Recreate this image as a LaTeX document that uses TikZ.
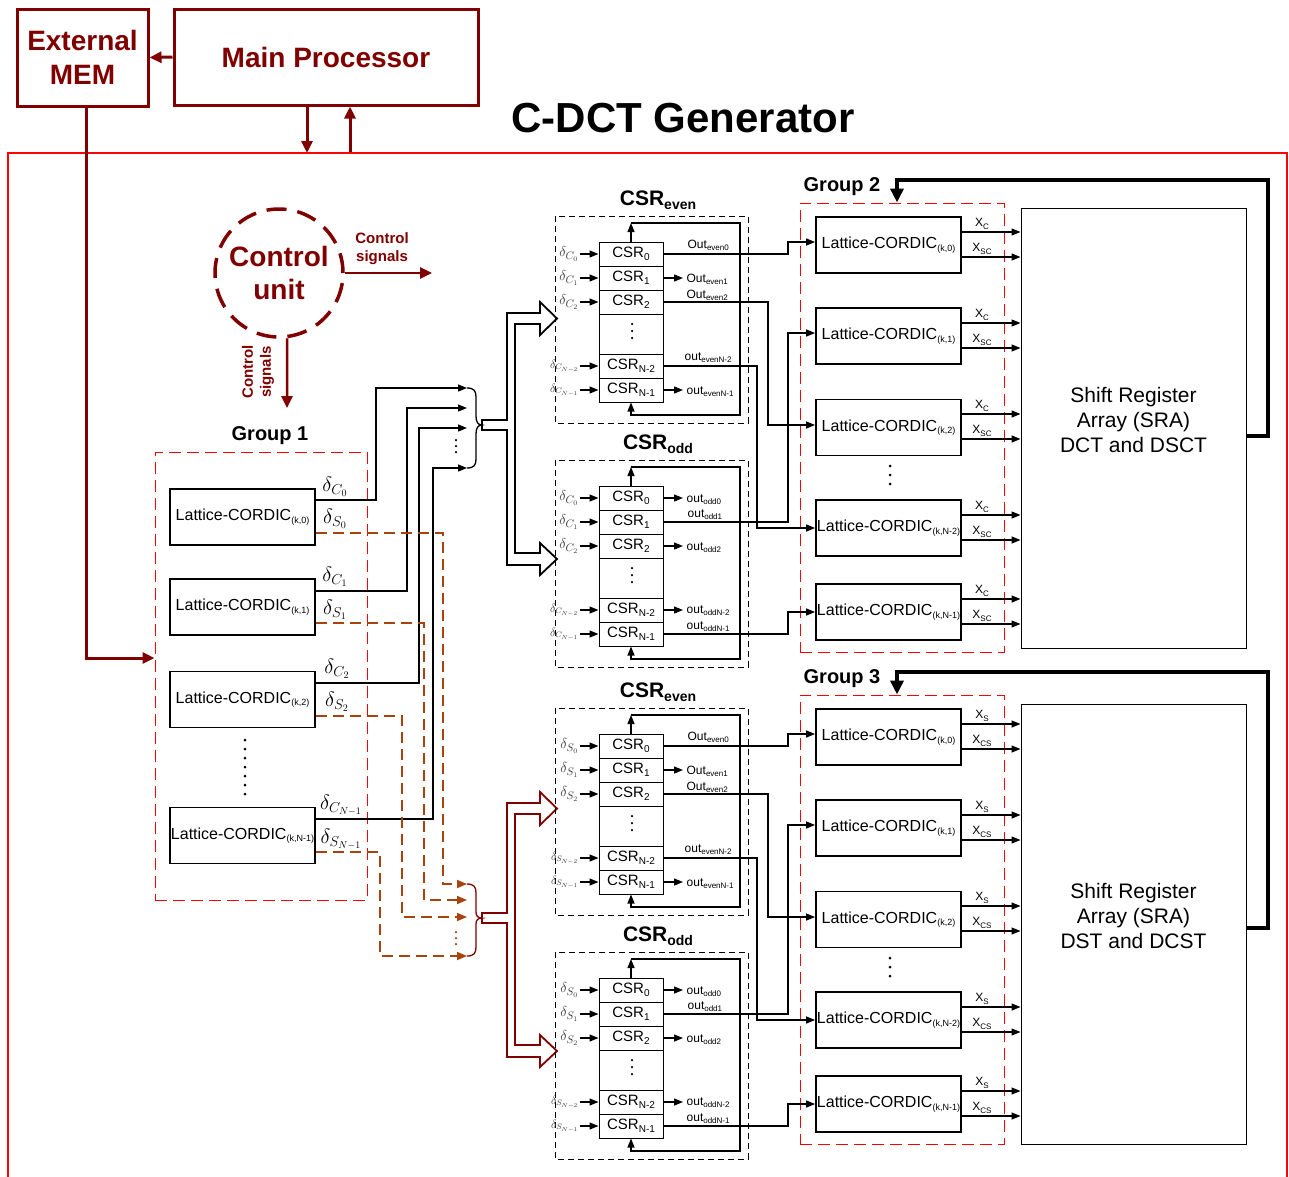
\documentclass[tikz,border=0pt]{standalone}
\usepackage{fontspec}
\setmainfont{Liberation Sans}
\usetikzlibrary{arrows.meta,calc}
\definecolor{dred}{RGB}{128,0,0}
\definecolor{brn}{RGB}{168,66,14}
\definecolor{dgray}{RGB}{55,55,55}
\newcommand\fsz[1]{\fontsize{#1}{\the\dimexpr #1pt*6/5\relax}\selectfont}
\newcommand\mysub[2]{{\fsz{#1}\raisebox{-0.3em}{#2}}}
\newcommand\latbox[1]{Lattice-CORDIC\mysub{9}{(#1)}}
\tikzset{
 crow/.style={draw, line width=1pt, minimum width=64pt, minimum height=24pt, inner sep=0pt, font=\fsz{15}},
 blkdash/.style={draw=black, line width=1pt, dash pattern=on 6pt off 4pt},
 ttl/.style={font=\bfseries\fsz{21}},
 dl/.style={text=dgray},
 gdl/.style={font=\fsz{20}},
 olab/.style={font=\fsz{12}, anchor=base west},
 latt/.style={draw, line width=1.8pt, minimum width=145pt, minimum height=56pt, inner sep=0pt, font=\fsz{16}},
 grp/.style={draw=red, line width=1pt, dash pattern=on 12pt off 6pt},
 glab/.style={font=\bfseries\fsz{20}},
 sra/.style={draw, line width=1pt, minimum width=225pt, minimum height=440pt},
 sratxt/.style={align=center, font=\fsz{21}},
 xlab/.style={font=\fsz{12}, anchor=south},
 fb/.style={line width=3.5pt, -{Triangle[length=14pt,width=13pt]}},
 vdot/.style={line width=3pt, line cap=round, dash pattern=on 0pt off 9pt},
 sw/.style={draw=brn, line width=1.6pt, dash pattern=on 11pt off 6pt, -{Triangle[length=10pt,width=8pt]}},
 darr/.style={draw=dred, line width=3pt, -{Triangle[length=12pt,width=11pt]}},
 topbox/.style={draw=dred, line width=3pt, text=dred, font=\bfseries\fsz{28}, align=center, inner sep=0pt},
 bus/.style={line width=1.8pt, line join=miter},
}
% one CSR block: #1 letter, #2 stack top y, #3 title subscript, #4 delta letter
\newcommand\csrblk[4]{%
\begin{scope}[shift={(0,#2)}]
 \draw[blkdash] (555,-26) rectangle (748,181);
 \node[ttl] (#1t) at (658,-42) {CSR\mysub{14}{#3}};
 \node[crow] (#1r0) at (631,12) {CSR\mysub{10}{0}};
 \node[crow] (#1r1) at (631,36) {CSR\mysub{10}{1}};
 \node[crow] (#1r2) at (631,60) {CSR\mysub{10}{2}};
 \node[crow, minimum height=40pt] (#1rd) at (631,92) {};
 \draw[vdot, line width=2.5pt, dash pattern=on 0pt off 7pt] (632,82) -- (632,100);
 \node[crow] (#1r3) at (631,124) {CSR\mysub{10}{N-2}};
 \node[crow] (#1r4) at (631,148) {CSR\mysub{10}{N-1}};
 \coordinate (#1tl) at (631,-19);
 \draw[->] (#1r0.north) -- (#1tl);
 \draw[->] (#1tl) -- (740,-19) -- (740,173) -- (631,173) -- (#1r4.south);
 \foreach \rr/\y/\s/\fz in {0/12/0/15, 1/36/1/15, 2/60/2/15, 3/124/{N-2}/12, 4/148/{N-1}/12} {
   \draw[->] (580,\y) -- (#1r\rr.west);
   \node[dl, font=\fsz{\fz}, anchor=east] (#1dl\rr) at (579,\y) {$\delta_{#4_{\s}}$};
 }
\end{scope}}
% one half: #1 prefix, #2 shift, #3 delta letter, #4 Xa, #5 Xb, #6 SRA line, #7 group no., #8 SRA centre y
\newcommand\halfblock[8]{%
\begin{scope}[shift={(0,#2)}, name prefix=#1-]
 \csrblk{E}{242}{even}{#3}
 \csrblk{O}{486}{odd}{#3}
 \node[grp, minimum width=204pt, minimum height=449pt] (G) at (902,427.5) {};
 \node[glab, anchor=west] (Gl) at (803,187) {Group #7};
 \node[latt] (L0) at (888.5,245) {\latbox{k,0}};
 \node[latt] (L1) at (888.5,336) {\latbox{k,1}};
 \node[latt] (L2) at (888.5,427.5) {\latbox{k,2}};
 \node[latt] (L3) at (888.5,528) {\latbox{k,N-2}};
 \node[latt] (L4) at (888.5,612) {\latbox{k,N-1}};
 \draw[vdot] (890,466) -- (890,492);
 \node[sra] (SRA) at (1133.5,#8) {};
 \node[sratxt] (SRAt) at (1133.5,#8-8) {Shift Register\\Array (SRA)\\#6};
 \foreach \ii/\pa/\pb in {0/232/257,1/323/348,2/414/439,3/515/540,4/599/624}{
   \draw[->] (L\ii.east|-0,\pa) -- (SRA.west|-0,\pa);
   \draw[->] (L\ii.east|-0,\pb) -- (SRA.west|-0,\pb);
   \node[xlab] (xa\ii) at (982,\pa-2) {X\mysub{8}{#4}};
   \node[xlab] (xb\ii) at (982,\pb-2) {X\mysub{8}{#5}};
 }
 \coordinate (fbA) at (1268,436);
 \coordinate (fbB) at (1268,180);
 \coordinate (fbC) at (897,180);
 \draw[fb] (SRA.east|-fbA) -- (fbA) -- (fbB) -- (fbC) -- (G.north-|fbC);
 % wires CSR -> lattice
 \draw[->] (Er0.east) -- (788,254) -- (788,242) -- (L0.west|-0,242);
 \draw[->] (Er2.east) -- (768,302) -- (768,425) -- (L2.west|-0,425);
 \draw[->] (Er3.east) -- (757,366) -- (757,528) -- (L3.west|-0,528);
 \draw[->] (Or1.east) -- (788,522) -- (788,333) -- (L1.west|-0,333);
 \draw[->] (Or4.east) -- (788,634) -- (788,612) -- (L4.west|-0,612);
 % short outputs
 \coordinate (ae1) at (683,278); \draw[->] (Er1.east) -- (ae1);
 \coordinate (ae4) at (683,390); \draw[->] (Er4.east) -- (ae4);
 \coordinate (ao0) at (683,498); \draw[->] (Or0.east) -- (ao0);
 \coordinate (ao2) at (683,546); \draw[->] (Or2.east) -- (ao2);
 \coordinate (ao3) at (683,610); \draw[->] (Or3.east) -- (ao3);
 \node[olab] (oe0) at (687,248) {Out\mysub{8}{even0}};
 \node[olab] (oe1) at (686,282) {Out\mysub{8}{even1}};
 \node[olab] (oe2) at (686,298) {Out\mysub{8}{even2}};
 \node[olab] (oe3) at (684,360) {out\mysub{8}{evenN-2}};
 \node[olab] (oe4) at (686,394) {out\mysub{8}{evenN-1}};
 \node[olab] (oo0) at (686,502) {out\mysub{8}{odd0}};
 \node[olab] (oo1) at (687,517) {out\mysub{8}{odd1}};
 \node[olab] (oo2) at (686,550) {out\mysub{8}{odd2}};
 \node[olab] (oo3) at (686,613) {out\mysub{8}{oddN-2}};
 \node[olab] (oo4) at (686,629) {out\mysub{8}{oddN-1}};
\end{scope}}

\begin{document}
\begin{tikzpicture}[x=1pt, y=-1pt, >={Triangle[length=9pt,width=7pt]}, line width=1.3pt, every node/.style={inner sep=0pt}]
\path[use as bounding box] (0,0) rectangle (1289,1176);

% top
\node[topbox, minimum width=131pt, minimum height=97pt] (MEM) at (82.5,57.5) {External\\MEM};
\node[topbox, minimum width=304pt, minimum height=96pt] (MP) at (326,57) {Main Processor};
\draw[darr] (MP.west) -- (MEM.east);
\coordinate (cdA) at (307,153);
\coordinate (cdB) at (350,153);
\draw[darr] (MP.south-|cdA) -- (cdA);
\draw[darr] (cdB) -- (MP.south-|cdB);
\node[font=\bfseries\fsz{42}] (T) at (683,118) {C-DCT Generator};
\draw[red, line width=2.5pt] (8,1190) -- (8,153) -- (1287,153) -- (1287,1190);

% control unit
\node[circle, draw=dred, line width=3.5pt, dash pattern=on 20pt off 11pt, minimum size=128pt, text=dred, font=\bfseries\fsz{28}, align=center] (CU) at (279,273) {Control\\unit};
\coordinate (cs1) at (432,273);
\coordinate (cs2) at (287,408);
\draw[darr, line width=2.5pt] (CU.east) -- (cs1);
\draw[darr, line width=2.5pt] (CU.-83) -- (cs2);
\node[font=\bfseries\fsz{15}, text=dred, align=center] (csl1) at (382,249) {Control\\signals};
\node[font=\bfseries\fsz{15}, text=dred, align=center, rotate=90] (csl2) at (258,372) {Control\\signals};

% group 1
\node[grp, minimum width=212pt, minimum height=448pt] (G1) at (261,676) {};
\node[glab] (G1l) at (270,436) {Group 1};
\draw[darr] (MEM.south-|86,0) -- (86,658) -- (G1.west|-0,658);
\node[latt] (A0) at (242.5,517) {\latbox{k,0}};
\node[latt] (A1) at (242.5,607) {\latbox{k,1}};
\node[latt] (A2) at (242.5,699.5) {\latbox{k,2}};
\node[latt] (A3) at (242.5,835.5) {\latbox{k,N-1}};
\draw[vdot] (245,740) -- (245,797);
\node[gdl] (dc0) at (335,487) {$\delta_{C_0}$};
\node[gdl] (ds0) at (335,519) {$\delta_{S_0}$};
\node[gdl] (dc1) at (335,577) {$\delta_{C_1}$};
\node[gdl] (ds1) at (335,610) {$\delta_{S_1}$};
\node[gdl] (dc2) at (337,669) {$\delta_{C_2}$};
\node[gdl] (ds2) at (337,702) {$\delta_{S_2}$};
\node[gdl] (dc3) at (341,805) {$\delta_{C_{N-1}}$};
\node[gdl] (ds3) at (341,839) {$\delta_{S_{N-1}}$};

% C wires
\coordinate (bc1) at (467,388);
\coordinate (bc2) at (467,408);
\coordinate (bc3) at (467,428);
\coordinate (bc4) at (467,468);
\draw[->] (A0.east|-0,500) -- (376,500) -- (376,388) -- (bc1);
\draw[->] (A1.east|-0,591) -- (407,591) -- (407,408) -- (bc2);
\draw[->] (A2.east|-0,683) -- (419,683) -- (419,428) -- (bc3);
\draw[->] (A3.east|-0,819) -- (433,819) -- (433,468) -- (bc4);
\draw[vdot, line width=2.5pt, dash pattern=on 0pt off 6pt] (456,440) -- (456,458);
% S wires
\coordinate (bs1) at (467,884);
\coordinate (bs2) at (467,900);
\coordinate (bs3) at (467,917);
\coordinate (bs4) at (467,956);
\draw[sw] (A0.east|-0,533) -- (443,533) -- (443,884) -- (bs1);
\draw[sw] (A1.east|-0,623) -- (424,623) -- (424,900) -- (bs2);
\draw[sw] (A2.east|-0,716) -- (402,716) -- (402,917) -- (bs3);
\draw[sw] (A3.east|-0,852) -- (380,852) -- (380,956) -- (bs4);
\draw[vdot, brn, line width=2.5pt, dash pattern=on 0pt off 6pt] (456,932) -- (456,950);

% braces
\draw (467,388) .. controls (474,388) and (476,391) .. (476,397) -- (476,416) .. controls (476,422) and (478,425) .. (482,425) .. controls (478,425) and (476,428) .. (476,434) -- (476,459) .. controls (476,465) and (474,468) .. (467,468);
\draw[dred] (467,884) .. controls (474,884) and (476,887) .. (476,893) -- (476,912) .. controls (476,916) and (478,918) .. (482,918) .. controls (478,918) and (476,920) .. (476,924) -- (476,947) .. controls (476,953) and (474,956) .. (467,956);

% buses
\draw[bus] (482,420) -- (507,420) -- (507,313) -- (540,313) -- (540,302) -- (557,318.5) -- (540,335) -- (540,324) -- (515,324) -- (515,553) -- (540,553) -- (540,543) -- (557,559) -- (540,575) -- (540,565) -- (507,565) -- (507,430) -- (482,430) -- cycle;
\draw[bus, dred] (482,913) -- (507,913) -- (507,803) -- (540,803) -- (540,792) -- (557,808.5) -- (540,825) -- (540,814) -- (515,814) -- (515,1045) -- (540,1045) -- (540,1035) -- (557,1051) -- (540,1067) -- (540,1057) -- (507,1057) -- (507,923) -- (482,923) -- cycle;

% the two halves
\halfblock{U}{0}{C}{C}{SC}{DCT and DSCT}{2}{428}
\halfblock{D}{492}{S}{S}{CS}{DST and DCST}{3}{432}
\end{tikzpicture}
\end{document}
